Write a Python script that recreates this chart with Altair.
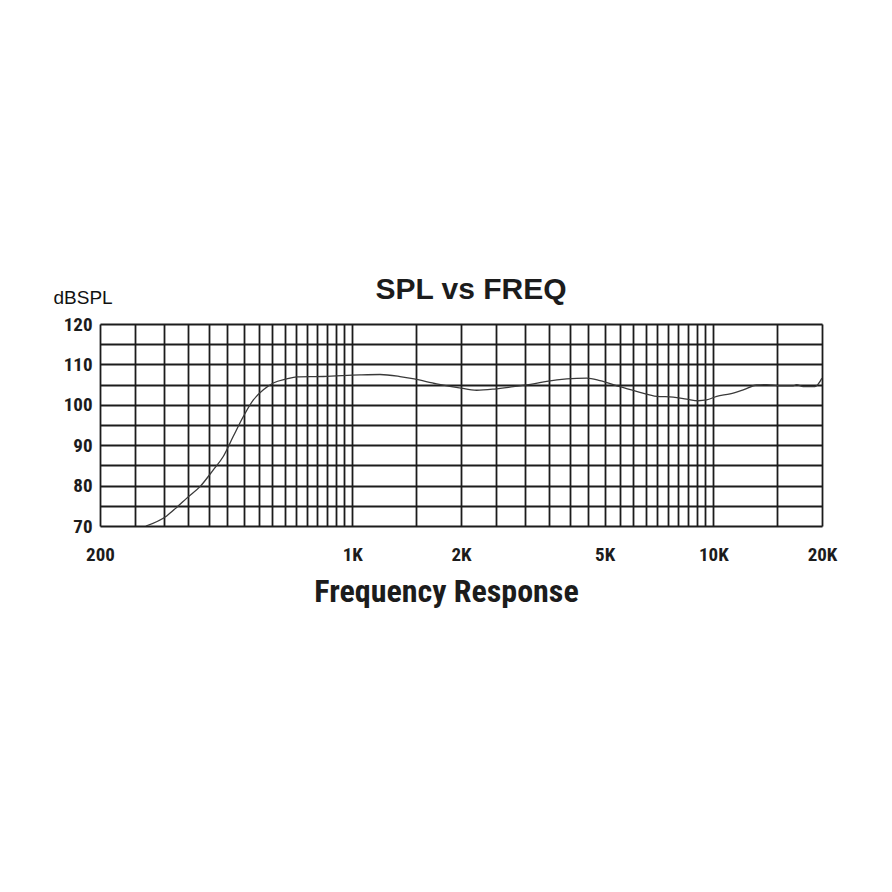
import altair as alt
import pandas as pd

# Frequency response curve
freq_hz = [268, 306, 326, 348, 379, 412, 439, 468, 499, 532, 567, 604, 658, 702, 832,
           1050, 1193, 1355, 1484, 1712, 1978, 2210, 2474, 2792, 3175, 3456, 3926, 4460,
           4854, 5513, 6260, 6968, 7740, 8440, 9080, 9580, 10220, 11130, 12100, 13190,
           14060, 15300, 16640, 17000, 17740, 19120, 20000]
spl_db = [70.0, 72.5, 74.6, 76.9, 79.8, 83.9, 87.2, 92.2, 97.1, 101.2, 103.7, 105.4, 106.4,
          106.9, 107.0, 107.4, 107.5, 107.0, 106.4, 105.2, 104.2, 103.6, 103.9, 104.5,
          105.2, 105.8, 106.4, 106.6, 106.0, 104.5, 103.1, 102.1, 101.9, 101.4, 101.0,
          101.2, 102.1, 102.7, 103.7, 104.9, 105.0, 104.7, 104.7, 105.0, 104.5, 104.5, 106.6]

# Grid / tick positions
x_grid = [200, 250, 300, 350, 400, 450, 500, 550, 600, 650, 700, 750, 800, 850, 900, 950,
          1000, 1500, 2000, 2500, 3000, 3500, 4000, 4500, 5000, 5500, 6000, 6500, 7000,
          7500, 8000, 8500, 9000, 9500, 10000, 15000, 20000]
x_label_values = [200, 1000, 2000, 5000, 10000, 20000]
x_label_text = ["200", "1K", "2K", "5K", "10K", "20K"]
y_grid = [70, 75, 80, 85, 90, 95, 100, 105, 110, 115, 120]

df = pd.DataFrame({"freq": freq_hz, "spl": spl_db})

label_expr = " : ".join(
    f"datum.value == {v} ? '{t}'" for v, t in zip(x_label_values, x_label_text)
) + " : ''"

narrow = "'Liberation Sans Narrow', 'Arial Narrow', 'Roboto Condensed', 'DejaVu Sans Condensed', sans-serif"
ink = "#1c1c1c"

chart = (
    alt.Chart(df)
    .mark_line(color="#3a3a3a", strokeWidth=1.3, interpolate="monotone", clip=True)
    .encode(
        x=alt.X(
            "freq:Q",
            scale=alt.Scale(type="log", domain=[200, 20000], nice=False),
            axis=alt.Axis(
                values=x_grid,
                labelExpr=label_expr,
                labelOverlap=False,
                labelFlush=False,
                grid=True,
                gridColor=ink,
                gridWidth=1.8,
                gridOpacity=1,
                ticks=False,
                domain=False,
                labelFont=narrow,
                labelFontWeight="bold",
                labelFontSize=19,
                labelColor=ink,
                labelPadding=19,
                labelBaseline="top",
                title="Frequency Response",
                titleFont=narrow,
                titleFontWeight="bold",
                titleFontSize=32,
                titleColor=ink,
                titleX=346,
                titleY=75,
                titleAlign="center",
                titleBaseline="alphabetic",
            ),
        ),
        y=alt.Y(
            "spl:Q",
            scale=alt.Scale(domain=[70, 120], nice=False),
            axis=alt.Axis(
                values=y_grid,
                labelExpr="datum.value % 10 == 0 ? datum.label : ''",
                labelOverlap=False,
                labelFlush=False,
                grid=True,
                gridColor=ink,
                gridWidth=1.8,
                gridOpacity=1,
                ticks=False,
                domain=False,
                labelFont=narrow,
                labelFontWeight="bold",
                labelFontSize=19,
                labelColor=ink,
                labelPadding=8,
                title="dBSPL",
                titleFont="'Liberation Sans', Arial, sans-serif",
                titleFontWeight="normal",
                titleFontSize=19,
                titleColor="#111111",
                titleAngle=0,
                titleAlign="left",
                titleBaseline="alphabetic",
                titleX=-47,
                titleY=-21,
            ),
        ),
    )
    .properties(
        width=722,
        height=202,
        autosize=alt.AutoSizeParams(type="none"),
        padding={"left": 92, "top": 316, "right": 62, "bottom": 300},
        title=alt.TitleParams(
            "SPL vs FREQ",
            font="'Liberation Sans', Arial, sans-serif",
            fontSize=30,
            fontWeight="bold",
            color=ink,
            anchor="middle",
            frame="group",
            baseline="alphabetic",
            offset=23,
            dx=10,
            dy=64,
        ),
    )
    .configure_view(stroke=ink, strokeWidth=2)
    .configure(background="white")
)

chart.save("out.html", embed_options={"renderer": "svg", "actions": False})
